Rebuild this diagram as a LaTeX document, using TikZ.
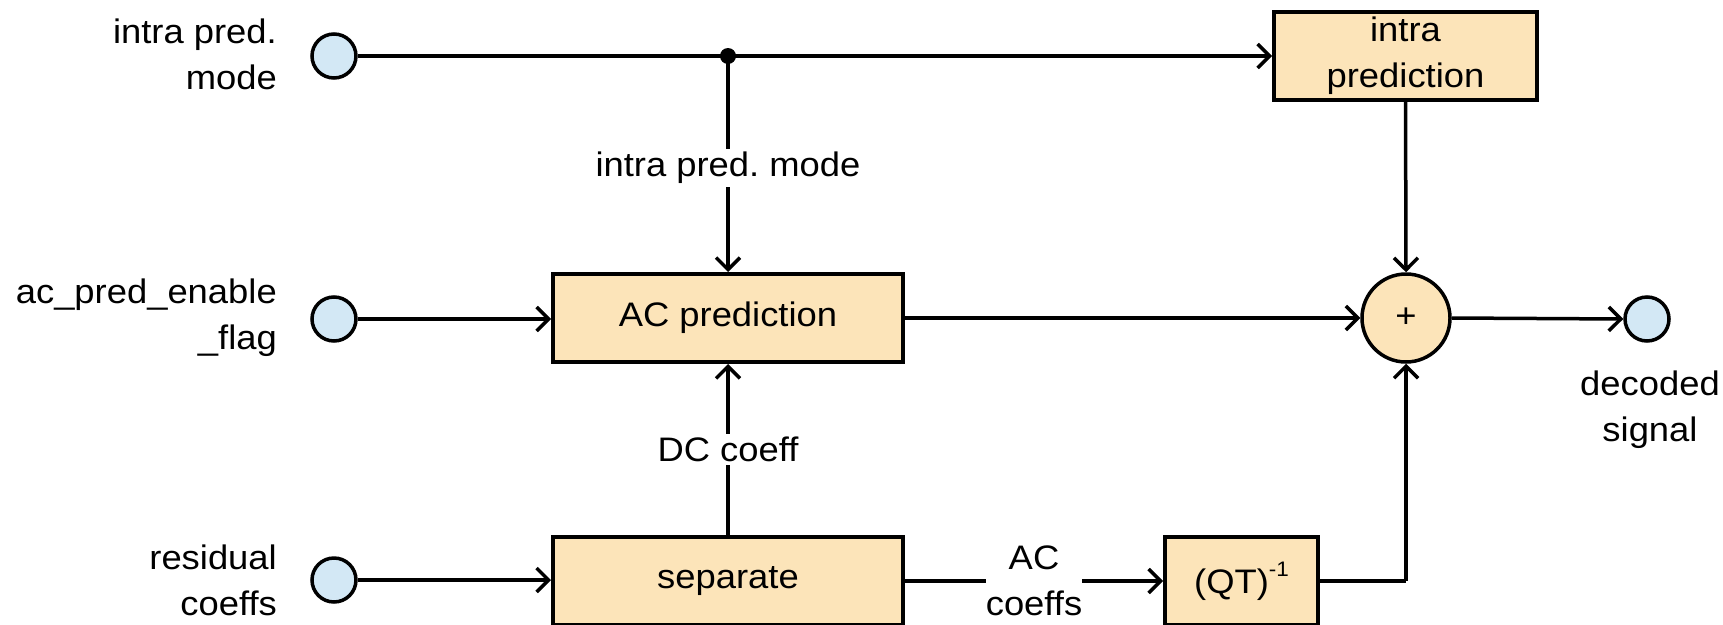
\documentclass[tikz,border=0pt]{standalone}
\usepackage{fontspec}
\setmainfont{Liberation Sans}[FakeStretch=1.07]
\usetikzlibrary{arrows.meta}

\definecolor{boxfill}{HTML}{FCE4B9}
\definecolor{portfill}{HTML}{D3E8F5}

\newcommand{\invsup}{\raisebox{17pt}{\fontsize{21}{21}\selectfont -1}}

\tikzset{
  every node/.style={font=\fontsize{34}{46}\selectfont},
  conn/.style={line width=3.5pt, -{Straight Barb[length=12pt,width=24pt,line width=3.5pt]}},
  wire/.style={line width=3.5pt},
  block/.style={draw, line width=4pt, fill=boxfill, inner sep=0pt, align=center},
  adder/.style={draw, circle, line width=3.5pt, fill=boxfill, minimum size=88pt, inner sep=0pt},
  port/.style={draw, circle, line width=3.5pt, fill=portfill, minimum size=44pt, inner sep=0pt},
  lbl/.style={fill=white, inner sep=3pt, align=center},
  sidelbl/.style={align=right, anchor=east, inner sep=0pt},
}

\begin{document}
\frenchspacing
\begin{tikzpicture}[x=1pt, y=-1pt]
  \useasboundingbox (0,0) rectangle (1723,624);

  % input and output ports
  \node[port] (in1) at (334,56) {};
  \node[port] (in2) at (334,319) {};
  \node[port] (in3) at (334,580) {};
  \node[port] (out) at (1647,319) {};

  \node[sidelbl] (l1) at (277,54) {intra pred.\\mode};
  \node[sidelbl] (l2) at (277,318) {ac\_pred\_enable\\\_flag};
  \node[sidelbl] (l3) at (277,580) {residual\\coeffs};
  \node[align=center, inner sep=0pt] (l4) at (1650,410) {decoded\\signal};

  % processing blocks
  \node[block, minimum width=263pt, minimum height=88pt] (intra) at (1405.5,56) {intra\\prediction};
  \node[block, minimum width=350pt, minimum height=88pt] (acp) at (728,318) {AC prediction};
  \node[block, minimum width=350pt, minimum height=88pt] (sep) at (728,581) {separate};
  \node[block, minimum width=153pt, minimum height=88pt] (qt) at (1241.5,581) {(QT)\invsup};
  \node[adder] (add) at (1406,318) {+};

  % branch point on the mode line
  \coordinate (jn) at (acp.north |- in1);
  \coordinate (qtc) at (add.south |- qt.east);

  % connections
  \draw[conn] (in1) -- (intra.west |- in1);
  \fill (jn) circle (8pt);
  \draw[conn] (jn) -- node[lbl, yshift=-4pt] (m1) {intra pred. mode} (acp.north);
  \draw[conn] (in2) -- (acp.west |- in2);
  \draw[conn] (acp.east) -- (add.west);
  \draw[conn] (intra.south) -- (add.north);
  \draw[conn] (in3) -- (sep.west |- in3);
  \draw[conn] (sep.north) -- node[lbl] (m2) {DC coeff} (acp.south);
  \draw[conn] (sep.east) -- node[lbl, inner xsep=0pt] (m3) {AC\\coeffs} (qt.west);
  \draw[wire] (qt.east) -- (qtc);
  \draw[conn] (qtc) -- (add.south);
  \draw[conn] (add.east) -- (out.west);
\end{tikzpicture}
\end{document}
